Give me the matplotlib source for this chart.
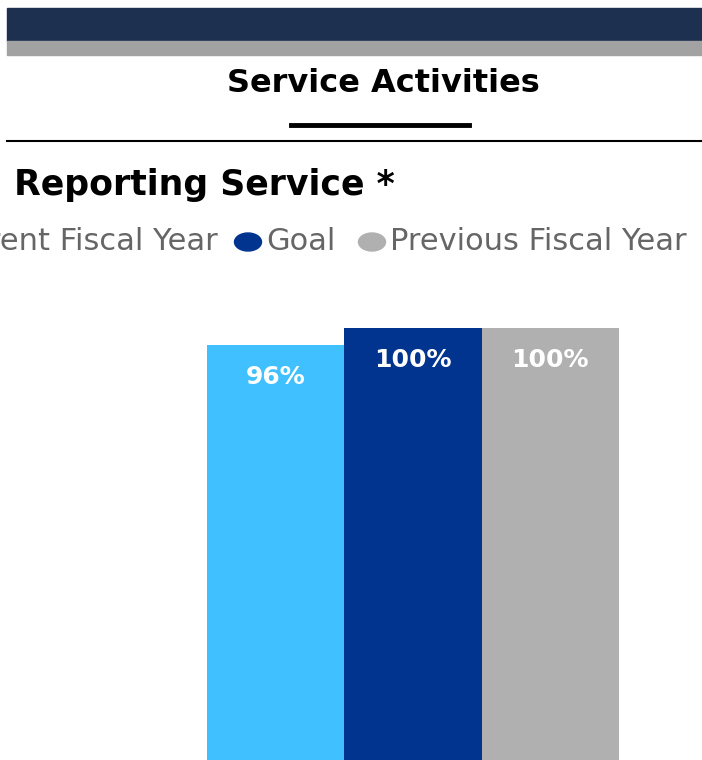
import matplotlib.pyplot as plt
from matplotlib.lines import Line2D
from matplotlib.patches import Rectangle, Ellipse

# Data
series = ['Current Fiscal Year', 'Goal', 'Previous Fiscal Year']
values = [96, 100, 100]
labels = ['96%', '100%', '100%']
colors = ['#41C0FF', '#00348F', '#B0B0B0']

W, H = 702, 760
fig = plt.figure(figsize=(W/100, H/100), dpi=100)

def fx(px): return px / W
def fy(py): return 1 - py / H

# header bands
fig.patches.append(Rectangle((fx(7), fy(41)), 1, 33/H, transform=fig.transFigure,
                             color='#1E3050', zorder=0))
fig.patches.append(Rectangle((fx(7), fy(55)), 1, 14/H, transform=fig.transFigure,
                             color='#A2A2A2', zorder=0))

fig.text(fx(383), fy(84), 'Service Activities', ha='center', va='center',
         fontsize=23, fontweight='bold', color='black')
fig.add_artist(Line2D([fx(291), fx(469)], [fy(125)]*2, color='black', lw=3.5))
fig.add_artist(Line2D([fx(7), 1], [fy(141)]*2, color='black', lw=1.5))

fig.text(fx(14), fy(185), 'Reporting Service *', ha='left', va='center',
         fontsize=25, fontweight='bold', color='black')

# legend (first entry runs off the left edge, as in the source)
leg_y = fy(242)
fig.text(fx(218), leg_y, series[0], ha='right', va='center', fontsize=22, color='#666666')
for name, c, dot_x, txt_x in [(series[1], colors[1], 248, 266),
                              (series[2], colors[2], 372, 390)]:
    fig.patches.append(Ellipse((fx(dot_x), leg_y), 27/W, 18/H,
                               transform=fig.transFigure, color=c))
    fig.text(fx(txt_x), leg_y, name, ha='left', va='center', fontsize=22, color='#666666')

# bars
ax = fig.add_axes([fx(207), 0, (619-207)/W, (760-328)/H])
x = range(len(values))
bars = ax.bar(x, values, width=1.0, color=colors)
for b, lab in zip(bars, labels):
    ax.text(b.get_x() + b.get_width()/2, b.get_height() - 7.3, lab, ha='center',
            va='center', color='white', fontsize=18, fontweight='bold')
ax.set_xlim(-0.5, 2.5)
ax.set_ylim(0, 100)
ax.axis('off')

fig.savefig('out.png', dpi=100)
